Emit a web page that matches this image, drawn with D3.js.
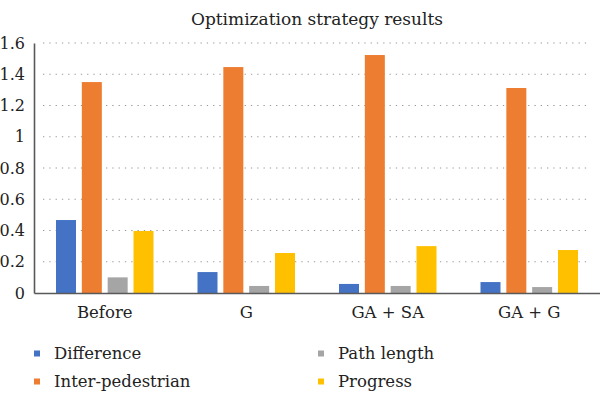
<!DOCTYPE html>
<html>
<head>
<meta charset="utf-8">
<script src="https://cdn.jsdelivr.net/npm/d3@7"></script>
<style>
  body { margin: 0; background: #fff; }
</style>
</head>
<body>
<svg width="600" height="399"></svg>
<script>
// chart data
var categories = ["Before", "G", "GA + SA", "GA + G"];
var seriesNames = ["Difference", "Inter-pedestrian", "Path length", "Progress"];
var difference = [0.467, 0.134, 0.058, 0.07];
var interPedestrian = [1.35, 1.446, 1.523, 1.312];
var pathLength = [0.10, 0.045, 0.045, 0.038];
var progress = [0.397, 0.256, 0.30, 0.275];
var yTicks = [0, 0.2, 0.4, 0.6, 0.8, 1, 1.2, 1.4, 1.6];
var colors = ["#4472C4", "#ED7D31", "#A5A5A5", "#FFC000"];

var seriesValues = [difference, interPedestrian, pathLength, progress];
var font = "'DejaVu Serif', serif";

var svg = d3.select("svg"),
    margin = {top: 43, right: 0, bottom: 106, left: 34},
    width = 600 - margin.left - margin.right,
    height = 399 - margin.top - margin.bottom,
    g = svg.append("g").attr("transform", "translate(" + margin.left + "," + margin.top + ")");

// title, centred over the plot area
svg.append("text")
    .attr("x", margin.left + width / 2)
    .attr("y", 25)
    .style("text-anchor", "middle")
    .style("font-family", font)
    .style("font-size", "17px")
    .attr("fill", "#222")
    .text("Optimization strategy results");

var x0 = d3.scaleBand().domain(categories).range([0, width]);
var x1 = d3.scaleBand().domain(seriesNames).range([22, x0.bandwidth() - 22]).paddingInner(0.226);
var y = d3.scaleLinear().domain([0, 1.6]).range([height, 0]);

// dotted gridlines
g.append("g")
    .selectAll("line")
    .data(yTicks.filter(function (d) { return d > 0; }))
    .enter().append("line")
    .attr("x1", 9)
    .attr("x2", width - 9)
    .attr("y1", function (d) { return y(d); })
    .attr("y2", function (d) { return y(d); })
    .attr("stroke", "#999")
    .attr("stroke-width", 1)
    .attr("stroke-dasharray", "1.3,5");

// bars
var table = categories.map(function (c, i) {
    return {cat: c, values: seriesNames.map(function (s, j) {
        return {name: s, value: seriesValues[j][i], color: colors[j]};
    })};
});

var group = g.selectAll(".group")
    .data(table)
    .enter().append("g")
    .attr("class", "group")
    .attr("transform", function (d) { return "translate(" + x0(d.cat) + ",0)"; });

group.selectAll("rect")
    .data(function (d) { return d.values; })
    .enter().append("rect")
    .attr("x", function (d) { return x1(d.name); })
    .attr("width", x1.bandwidth())
    .attr("y", function (d) { return y(d.value); })
    .attr("height", function (d) { return height - y(d.value); })
    .attr("fill", function (d) { return d.color; });

// axes
var yAxis = g.append("g")
    .call(d3.axisLeft(y).tickValues(yTicks).tickSize(0).tickPadding(9).tickFormat(d3.format("")));
yAxis.attr("font-family", null).attr("font-size", null);
yAxis.select(".domain").attr("stroke", "#595959").attr("stroke-width", 1.6);
yAxis.selectAll("text")
    .style("font-family", font)
    .style("font-size", "16px")
    .attr("fill", "#222");

var xAxis = g.append("g")
    .attr("transform", "translate(0," + height + ")")
    .call(d3.axisBottom(x0).tickSize(0).tickPadding(13));
xAxis.attr("font-family", null).attr("font-size", null);
xAxis.select(".domain").attr("stroke", "#595959").attr("stroke-width", 1.6);
xAxis.selectAll("text")
    .style("font-family", font)
    .style("font-size", "16.5px")
    .attr("fill", "#222");

// legend, two columns
var legend = svg.append("g").selectAll(".legend")
    .data(seriesNames)
    .enter().append("g")
    .attr("class", "legend")
    .attr("transform", function (d, i) {
        return "translate(" + (i < 2 ? 34 : 318) + "," + (i % 2 === 0 ? 359 : 387) + ")";
    });

legend.append("rect")
    .attr("x", 0)
    .attr("y", -8.5)
    .attr("width", 6)
    .attr("height", 6)
    .attr("fill", function (d, i) { return colors[i]; });

legend.append("text")
    .attr("x", 20)
    .attr("y", 0)
    .style("font-family", font)
    .style("font-size", "16.5px")
    .attr("fill", "#222")
    .text(function (d) { return d; });
</script>
</body>
</html>
